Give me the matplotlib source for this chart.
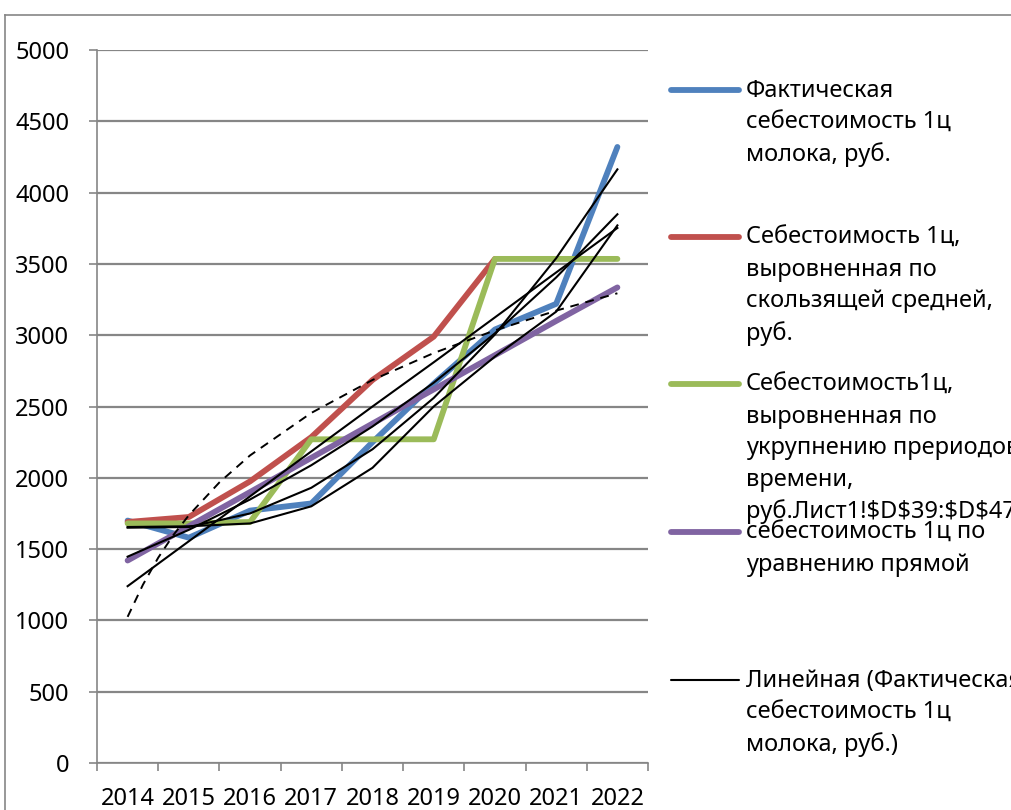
import matplotlib
matplotlib.use("Agg")
import matplotlib.pyplot as plt
from matplotlib.lines import Line2D

plt.rcParams['font.family'] = ['Noto Sans', 'DejaVu Sans']

years = ['2014', '2015', '2016', '2017', '2018', '2019', '2020', '2021', '2022']

# основные ряды
actual = [1700, 1580, 1770, 1820, 2250, 2660, 3040, 3220, 4320]
moving_avg = [1690, 1725, 1975, 2285, 2686, 2990, 3535]
enlarged = [1680, 1680, 1690, 2270, 2270, 2270, 3535, 3535, 3535]
straight = [1420, 1660, 1900, 2140, 2380, 2620, 2860, 3100, 3335]

# линии тренда (чёрные)
trend_linear = [1240, 1555, 1870, 2185, 2500, 2810, 3125, 3440, 3752]
trend_exp = [1447, 1635, 1848, 2088, 2360, 2667, 3013, 3405, 3848]
trend_poly = [1650, 1655, 1750, 1930, 2200, 2560, 3005, 3540, 4163]
trend_filter = [1655, 1660, 1680, 1800, 2070, 2500, 2850, 3165, 3770]
log_pos = [0, 0.25, 0.5, 0.75, 1, 1.5, 2, 3, 4, 5, 6, 7, 8]
trend_log = [1025, 1250, 1440, 1600, 1737, 1968, 2157, 2455, 2686, 2875, 3034, 3172, 3294]

legend_labels = [
    "Фактическая\nсебестоимость 1ц\nмолока, руб.",
    "Себестоимость 1ц,\nвыровненная по\nскользящей средней,\nруб.",
    "Себестоимость1ц,\nвыровненная по\nукрупнению прериодов\nвремени,\nруб.Лист1!\\$D\\$39:\\$D\\$47",
    "себестоимость 1ц по\nуравнению прямой",
    "Линейная (Фактическая\nсебестоимость 1ц\nмолока, руб.)",
]

blue = '#4F81BD'
red = '#C0504D'
green = '#9BBB59'
purple = '#8064A2'
grid = '#868686'
W, H = 1011, 810

fig = plt.figure(figsize=(W / 100, H / 100), dpi=100)
ax = fig.add_axes([97 / W, 1 - 763 / H, (648 - 97) / W, (763 - 50) / H])

x = list(range(len(years)))
ax.plot(x, actual, color=blue, lw=4.2, solid_capstyle='round', zorder=3)
ax.plot(x[:len(moving_avg)], moving_avg, color=red, lw=4.2, solid_capstyle='round', zorder=3)
ax.plot(x, enlarged, color=green, lw=4.2, solid_capstyle='round', zorder=3)
ax.plot(x, straight, color=purple, lw=4.2, solid_capstyle='round', zorder=3)

for t in [trend_linear, trend_exp, trend_poly, trend_filter]:
    ax.plot(x, t, color='black', lw=1.5, zorder=4)
ax.plot(log_pos, trend_log, color='black', lw=1.4, ls=(0, (4.5, 3.5)), zorder=4)

ax.set_xlim(-0.5, 8.5)
ax.set_ylim(0, 5000)
ax.set_yticks(range(0, 5001, 500))
ax.yaxis.grid(True, color=grid, lw=1.6)
ax.set_axisbelow(True)
for s in ['top', 'right']:
    ax.spines[s].set_visible(False)
for s in ['left', 'bottom']:
    ax.spines[s].set_color(grid)
    ax.spines[s].set_linewidth(1.2)

ax.set_xticks([i - 0.5 for i in range(len(years) + 1)])
ax.set_xticklabels([])
ax.set_xticks(x, minor=True)
ax.set_xticklabels(years, minor=True)
ax.tick_params(axis='x', which='major', length=6, color=grid, width=1.2)
ax.tick_params(axis='x', which='minor', length=0, pad=17, labelsize=17)
ax.tick_params(axis='y', length=6, color=grid, width=1.2, pad=14, labelsize=17)

# рамка диаграммы
fig.add_artist(Line2D([5 / W, 5 / W], [0, 1 - 15 / H], color=grid, lw=1.2))
fig.add_artist(Line2D([5 / W, 1], [1 - 15 / H, 1 - 15 / H], color=grid, lw=1.2))

# легенда
leg_colors = [blue, red, green, purple, 'black']
leg_widths = [4.2, 4.2, 4.2, 4.2, 1.5]
leg_y = [90, 237, 384, 532, 680]
for c, lw, yy, lab in zip(leg_colors, leg_widths, leg_y, legend_labels):
    fig.add_artist(Line2D([671 / W, 739 / W], [1 - yy / H, 1 - yy / H],
                          color=c, lw=lw, solid_capstyle='round'))
    fig.text(746 / W, 1 - (yy - 11) / H, lab, fontsize=17, va='top', ha='left',
             linespacing=1.42)

fig.savefig('out.png', dpi=100)
